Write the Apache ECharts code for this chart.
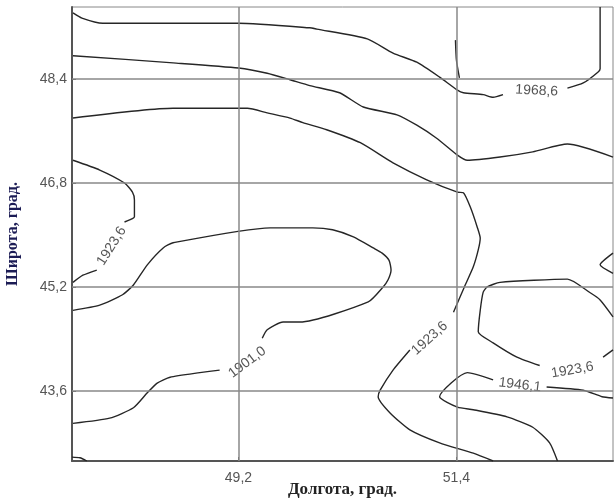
<!DOCTYPE html>
<html>
<head>
<meta charset="utf-8">
<script src="https://cdn.jsdelivr.net/npm/echarts@6/dist/echarts.min.js"></script>
<style>html,body{margin:0;padding:0;background:#fff;}#c{width:614px;height:502px;}</style>
</head>
<body>
<div id="c"></div>
<script>
// Axis ticks / grid values
const xTicks = [49.2, 51.4];
const yTicks = [43.6, 45.2, 46.8, 48.4];
const xRange = [47.52, 52.98];
const yRange = [42.52, 49.51];

// Contour polylines [longitude, latitude]
const contourA1 = [[47.53,49.42],[47.62,49.34],[47.83,49.26],[49.20,49.26],[49.92,49.19],[49.99,49.17],[50.50,49.02],[50.76,48.80],[51.00,48.66],[51.23,48.43],[51.41,48.23],[51.47,48.19],[51.67,48.16],[51.77,48.12],[51.87,48.16]];
const contourA2 = [[52.52,48.26],[52.68,48.34],[52.83,48.51],[52.85,48.56],[52.85,49.51]];
const contourB = [[47.53,48.76],[48.54,48.65],[49.20,48.57],[49.49,48.49],[49.72,48.39],[49.92,48.30],[50.22,48.19],[50.46,47.97],[50.80,47.85],[51.00,47.69],[51.20,47.49],[51.41,47.23],[51.51,47.15],[51.84,47.20],[52.17,47.28],[52.52,47.40],[52.98,47.20]];
const contourC1 = [[47.53,47.80],[48.54,47.95],[49.29,47.95],[49.49,47.88],[49.72,47.80],[49.85,47.73],[50.09,47.62],[50.43,47.42],[50.76,47.11],[51.10,46.85],[51.41,46.66],[51.47,46.65],[51.54,46.43],[51.61,46.12],[51.64,45.95],[51.62,45.77],[51.57,45.51],[51.48,45.20],[51.37,44.81]];
const contourC2 = [[50.93,44.23],[50.76,43.92],[50.63,43.61],[50.61,43.51],[50.73,43.26],[50.93,43.00],[51.23,42.80],[51.57,42.64],[51.77,42.52]];
const contourD1 = [[47.53,47.15],[47.80,47.00],[48.05,46.80],[48.13,46.66],[48.15,46.54],[48.15,46.28],[48.13,46.25],[48.05,46.20]];
const contourD2 = [[47.77,45.46],[47.63,45.38],[47.53,45.27]];
const contourE1 = [[47.53,44.84],[47.80,44.92],[48.03,45.08],[48.14,45.23],[48.28,45.54],[48.44,45.80],[48.54,45.88],[49.52,46.11],[49.95,46.11],[50.15,46.08],[50.36,45.97],[50.56,45.80],[50.65,45.72],[50.72,45.61],[50.74,45.46],[50.71,45.31],[50.66,45.20],[50.51,44.97],[49.82,44.66],[49.65,44.66],[49.49,44.54],[49.44,44.41]];
const contourE2 = [[49.01,43.92],[48.81,43.88],[48.51,43.81],[48.38,43.72],[48.28,43.57],[48.14,43.34],[47.90,43.18],[47.53,43.10]];
const contourF1 = [[52.42,42.52],[52.34,42.80],[52.17,43.04],[51.91,43.20],[51.57,43.31],[51.41,43.35],[51.23,43.51],[51.51,43.88],[51.77,43.77]];
const contourF2 = [[52.31,43.66],[52.68,43.61],[52.87,43.51],[52.98,43.49]];
const contourG1 = [[52.98,44.74],[52.85,45.00],[52.75,45.11],[52.52,45.32],[51.84,45.27],[51.71,45.20],[51.67,45.12],[51.64,44.84],[51.62,44.51],[51.77,44.34],[52.01,44.12],[52.24,43.99]];
const contourG2 = [[52.88,44.12],[52.98,44.23]];
const contourH = [[52.98,45.72],[52.85,45.54],[52.98,45.41]];
const contourI = [[47.52,42.58],[47.60,42.57],[47.67,42.52]];
const contourJ = [[51.39,49.00],[51.40,48.69],[51.43,48.42]];

// Contour labels
const labelPos = [[52.21,48.22],[51.13,44.41],[47.92,45.83],[49.29,44.04],[52.04,43.69],[52.57,43.92]];
const labelText = ['1968,6','1923,6','1923,6','1901,0','1946,1','1923,6'];
const labelRot = [-3, 42, 58, 37, -7, 10];

const contours = [contourA1, contourA2, contourB, contourC1, contourC2, contourD1, contourD2,
  contourE1, contourE2, contourF1, contourF2, contourG1, contourG2, contourH, contourI, contourJ];

const fmt = v => String(v).replace('.', ',');

const series = contours.map(c => ({
  type: 'line', data: c, symbol: 'none', smooth: 0.2, silent: true,
  lineStyle: {color: '#262626', width: 1.4}, z: 3
}));

series.push({
  type: 'line', data: [], symbol: 'none', silent: true,
  markLine: {
    silent: true, symbol: 'none', animation: false,
    label: {show: false},
    lineStyle: {color: '#888', width: 1.5, type: 'solid'},
    data: xTicks.map(v => ({xAxis: v})).concat(yTicks.map(v => ({yAxis: v})))
  },
  z: 1
});

series.push({
  type: 'scatter', symbolSize: 0, silent: true, z: 4,
  data: labelPos.map((p, i) => ({
    value: [p[0], p[1], labelText[i]],
    label: {rotate: labelRot[i]}
  })),
  label: {
    show: true, position: 'inside', formatter: p => p.value[2],
    fontFamily: 'Liberation Sans, Arial, sans-serif', fontSize: 14, color: '#2a2a2a'
  }
});

const chart = echarts.init(document.getElementById('c'), null, {renderer: 'canvas'});
chart.setOption({
  animation: false,
  backgroundColor: '#fff',
  grid: {left: 72, top: 7, right: 1, bottom: 41, show: true, borderColor: '#888', borderWidth: 1, containLabel: false, outerBoundsMode: 'none'},
  xAxis: {
    type: 'value', min: xRange[0], max: xRange[1],
    name: 'Долгота, град.', nameLocation: 'middle', nameGap: 20, nameMoveOverlap: false,
    nameTextStyle: {fontFamily: 'Liberation Serif, Times New Roman, serif', fontSize: 17, fontWeight: 'bold', color: '#222'},
    axisLine: {show: true, lineStyle: {color: '#555', width: 2}},
    axisTick: {show: true, inside: true, length: 4, customValues: xTicks, lineStyle: {color: '#555'}},
    axisLabel: {customValues: xTicks, formatter: fmt, margin: 10, fontFamily: 'Liberation Sans, Arial, sans-serif', fontSize: 14, color: '#555'},
    splitLine: {show: false}
  },
  yAxis: {
    type: 'value', min: yRange[0], max: yRange[1],
    name: 'Широта, град.', nameLocation: 'middle', nameGap: 51, nameMoveOverlap: false,
    nameTextStyle: {fontFamily: 'Liberation Serif, Times New Roman, serif', fontSize: 16, fontWeight: 'bold', color: '#1c1c55'},
    axisLine: {show: true, lineStyle: {color: '#555', width: 2}},
    axisTick: {show: true, inside: true, length: 4, customValues: yTicks, lineStyle: {color: '#555'}},
    axisLabel: {customValues: yTicks, formatter: fmt, margin: 5, verticalAlign: 'middle', padding: [0, 0, 9, 0], fontFamily: 'Liberation Sans, Arial, sans-serif', fontSize: 14, color: '#555'},
    splitLine: {show: false}
  },
  series: series
});
</script>
</body>
</html>
